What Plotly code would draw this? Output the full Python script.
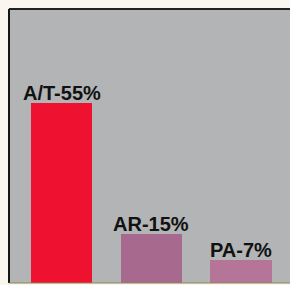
import plotly.graph_objects as go

categories = ["A/T", "AR", "PA"]
values = [55, 15, 7]
labels = ["A/T-55%", "AR-15%", "PA-7%"]
colors = ["#ee1230", "#a8698e", "#b47598"]

fig = go.Figure()
fig.add_trace(go.Bar(
    x=categories, y=values, width=0.68,
    marker=dict(color=colors, line=dict(width=0)),
    hoverinfo="skip", showlegend=False,
))

for c, v, t in zip(categories, values, labels):
    fig.add_annotation(
        x=c, y=v, text="<b>" + t + "</b>", showarrow=False, yanchor="bottom", yshift=-3,
        font=dict(family="Liberation Sans, Arial, sans-serif", size=20, color="#111111"),
    )

fig.add_shape(type="line", xref="paper", yref="paper", x0=0, x1=0, y0=0, y1=1,
              line=dict(color="#151515", width=2))
fig.add_shape(type="line", xref="paper", yref="paper", x0=0, x1=1, y0=1, y1=1,
              line=dict(color="#222222", width=2))
fig.add_shape(type="line", xref="paper", yref="paper", x0=0, x1=1, y0=0, y1=0,
              line=dict(color="#8a8450", width=1))

fig.update_layout(
    width=290, height=285,
    margin=dict(l=9, r=0, t=9, b=2),
    paper_bgcolor="#f8f6ef",
    plot_bgcolor="#b3b4b6",
    xaxis=dict(range=[-0.585, 2.546], showticklabels=False, showgrid=False,
               zeroline=False, showline=False, ticks=""),
    yaxis=dict(range=[0, 83.7], showticklabels=False, showgrid=False,
               zeroline=False, showline=False, ticks=""),
    bargap=0,
)

fig.write_html(
    "out.html",
    config={"displayModeBar": False, "staticPlot": True},
    post_script="document.body.style.margin='0';document.body.style.overflow='hidden';",
)
